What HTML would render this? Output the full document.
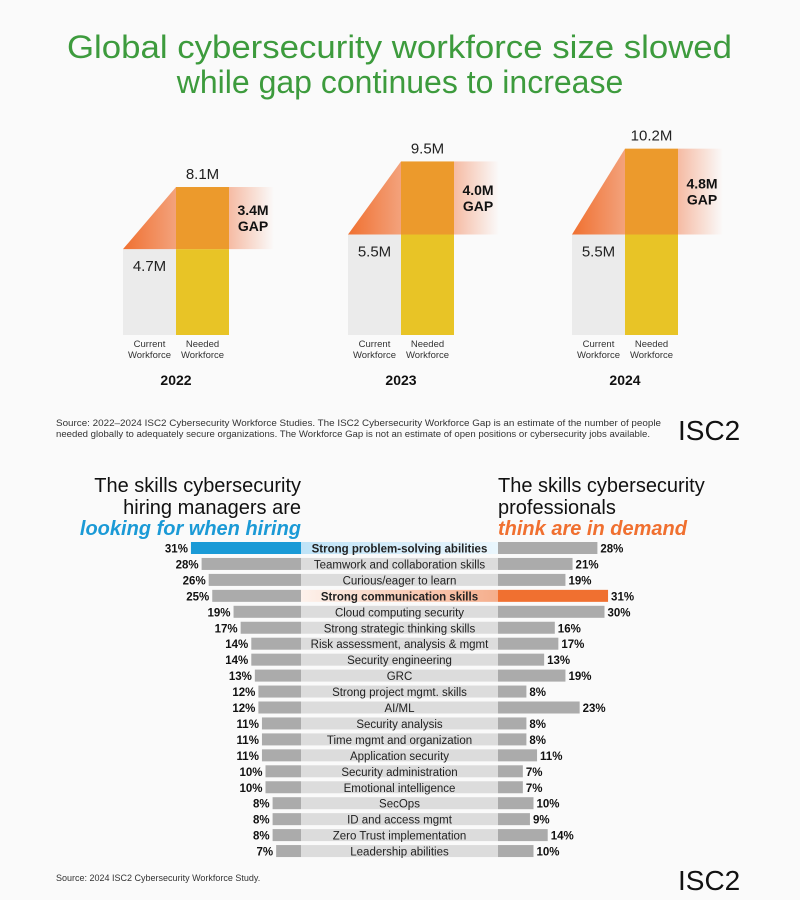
<!DOCTYPE html>
<html><head><meta charset="utf-8"><style>
body{margin:0;width:800px;height:900px;background:#fafafa;font-family:"Liberation Sans",sans-serif;overflow:hidden}
svg{display:block}
svg text{font-family:"Liberation Sans",sans-serif}
</style></head><body>
<svg id="c" width="800" height="900" viewBox="0 0 800 900">
<defs>
<linearGradient id="tri" x1="0" x2="1"><stop offset="0" stop-color="#f07030"/><stop offset="1" stop-color="#f3a27c"/></linearGradient>
<linearGradient id="gapfade" x1="0" x2="1"><stop offset="0" stop-color="#f5b49a" stop-opacity="0.9"/><stop offset="1" stop-color="#f5b49a" stop-opacity="0"/></linearGradient>
<linearGradient id="blueg" x1="0" x2="1"><stop offset="0" stop-color="#bfe3f7"/><stop offset="1" stop-color="#eaf6fd"/></linearGradient>
<linearGradient id="orgg" x1="0" x2="1"><stop offset="0" stop-color="#fdf2ec"/><stop offset="1" stop-color="#f5ae8c"/></linearGradient>
</defs>
<text x="67" y="58" textLength="665" lengthAdjust="spacingAndGlyphs" font-size="32" fill="#3d9b3d">Global cybersecurity workforce size slowed</text>
<text x="400" y="93" text-anchor="middle" font-size="32" fill="#3d9b3d">while gap continues to increase</text>
<g id="topchart"></g>
<text x="56" y="426" font-size="9" textLength="605" lengthAdjust="spacingAndGlyphs" fill="#333">Source: 2022–2024 ISC2 Cybersecurity Workforce Studies. The ISC2 Cybersecurity Workforce Gap is an estimate of the number of people</text>
<text x="56" y="437" font-size="9" textLength="594" lengthAdjust="spacingAndGlyphs" fill="#333">needed globally to adequately secure organizations. The Workforce Gap is not an estimate of open positions or cybersecurity jobs available.</text>
<text x="678" y="440" font-size="28" fill="#111">ISC2</text>
<g font-size="20" fill="#111">
<text x="301" y="492" text-anchor="end">The skills cybersecurity</text>
<text x="301" y="514" text-anchor="end">hiring managers are</text>
<text x="301" y="535" text-anchor="end" font-weight="bold" font-style="italic" fill="#1b9ad6">looking for when hiring</text>
<text x="498" y="492">The skills cybersecurity</text>
<text x="498" y="514">professionals</text>
<text x="498" y="535" font-weight="bold" font-style="italic" fill="#f07030">think are in demand</text>
</g>
<g id="skills"></g>
<text x="56" y="881" font-size="9" fill="#333">Source: 2024 ISC2 Cybersecurity Workforce Study.</text>
<text x="678" y="890" font-size="28" fill="#111">ISC2</text>
</svg>
<script>
const years=["2022","2023","2024"];
const current=[4.7,5.5,5.5];
const needed=[8.1,9.5,10.2];
const gapLabels=["3.4M","4.0M","4.8M"];
const skills=["Strong problem-solving abilities","Teamwork and collaboration skills","Curious/eager to learn","Strong communication skills","Cloud computing security","Strong strategic thinking skills","Risk assessment, analysis & mgmt","Security engineering","GRC","Strong project mgmt. skills","AI/ML","Security analysis","Time mgmt and organization","Application security","Security administration","Emotional intelligence","SecOps","ID and access mgmt","Zero Trust implementation","Leadership abilities"];
const hiring=[31,28,26,25,19,17,14,14,13,12,12,11,11,11,10,10,8,8,8,7];
const pros=[28,21,19,31,30,16,17,13,19,8,23,8,8,11,7,7,10,9,14,10];
const NS="http://www.w3.org/2000/svg";
function mk(p,t,a,txt){const e=document.createElementNS(NS,t);for(const k in a)e.setAttribute(k,a[k]);if(txt!=null)e.textContent=txt;p.appendChild(e);return e;}
const topG=document.getElementById('topchart');
const base=335,sc=18.27,bw=53;
const x0=[123,348,572];
const yv=v=>base-v*sc;
years.forEach((y,i)=>{
 const x=x0[i],yc=yv(current[i]),yn=yv(needed[i]);
 const g=mk(topG,'g',{});
 
 
 let r=mk(g,'rect',{x:x,y:yc,width:bw,height:base-yc,fill:'#ebebeb'});
 
 
 r=mk(g,'rect',{x:x+bw,y:yc,width:bw,height:base-yc,fill:'#e8c426'});
 
 
 r=mk(g,'rect',{x:x+2*bw,y:yn,width:45,height:yc-yn,fill:'url(#gapfade)'});
 
 
 r=mk(g,'polygon',{points:`${x},${yc} ${x+bw},${yn} ${x+bw},${yc}`,fill:'url(#tri)'});
 
 
 r=mk(g,'rect',{x:x+bw,y:yn,width:bw,height:yc-yn,fill:'#ec9a2c'});
 
 
 let t=mk(g,'text',{x:x+bw+bw/2,y:yn-8,'text-anchor':'middle','font-size':15,fill:'#222'},needed[i].toFixed(1)+'M');
 
 
 t=mk(g,'text',{x:x+bw/2,y:yc+22,'text-anchor':'middle','font-size':15,fill:'#222'},current[i].toFixed(1)+'M');
 
 
 const gm=(yn+yc)/2;
 t=mk(g,'text',{x:x+2*bw+24,y:gm-3,'text-anchor':'middle','font-size':14,'font-weight':'bold',fill:'#111'},gapLabels[i]);
 
 
 t=mk(g,'text',{x:x+2*bw+24,y:gm+13,'text-anchor':'middle','font-size':14,'font-weight':'bold',fill:'#111'},'GAP');
 
 
 [['Current',x+bw/2,347],['Workforce',x+bw/2,358],['Needed',x+bw+bw/2,347],['Workforce',x+bw+bw/2,358]].forEach((a,j)=>{
  t=mk(g,'text',{x:a[1],y:a[2],'text-anchor':'middle','font-size':9.5,fill:'#333'},a[0]);
  
  
 });
 t=mk(g,'text',{x:x+bw,y:385,'text-anchor':'middle','font-size':14,'font-weight':'bold',fill:'#111'},y);
 
 
});
const sk=document.getElementById('skills');
const L=301,R=498,px=3.55,row0=542,step=15.95,bh=12;
skills.forEach((s,i)=>{
 const y=row0+i*step;
 const g=mk(sk,'g',{});
 
 
 const hiH=i===0, hiP=i===3;
 let r=mk(g,'rect',{x:L,y:y,width:R-L,height:bh,fill:hiH?'url(#blueg)':hiP?'url(#orgg)':'#dcdcdc'});
 
 
 const wl=hiring[i]*px;
 r=mk(g,'rect',{x:L-wl,y:y,width:wl,height:bh,fill:hiH?'#1a9ad6':'#ababab'});
 
 
 const wr=pros[i]*px;
 r=mk(g,'rect',{x:R,y:y,width:wr,height:bh,fill:hiP?'#f07030':'#ababab'});
 
 
 let t=mk(g,'text',{x:(L+R)/2,y:y+10.5,'text-anchor':'middle','font-size':11.5,fill:'#222','font-weight':(hiH||hiP)?'bold':'normal'},s);
 
 
 t=mk(g,'text',{x:L-wl-3,y:y+10.5,'text-anchor':'end','font-size':11.5,'font-weight':'bold',fill:'#111'},hiring[i]+'%');
 
 
 t=mk(g,'text',{x:R+wr+3,y:y+10.5,'font-size':11.5,'font-weight':'bold',fill:'#111'},pros[i]+'%');
 
 
});
</script>
</body></html>
